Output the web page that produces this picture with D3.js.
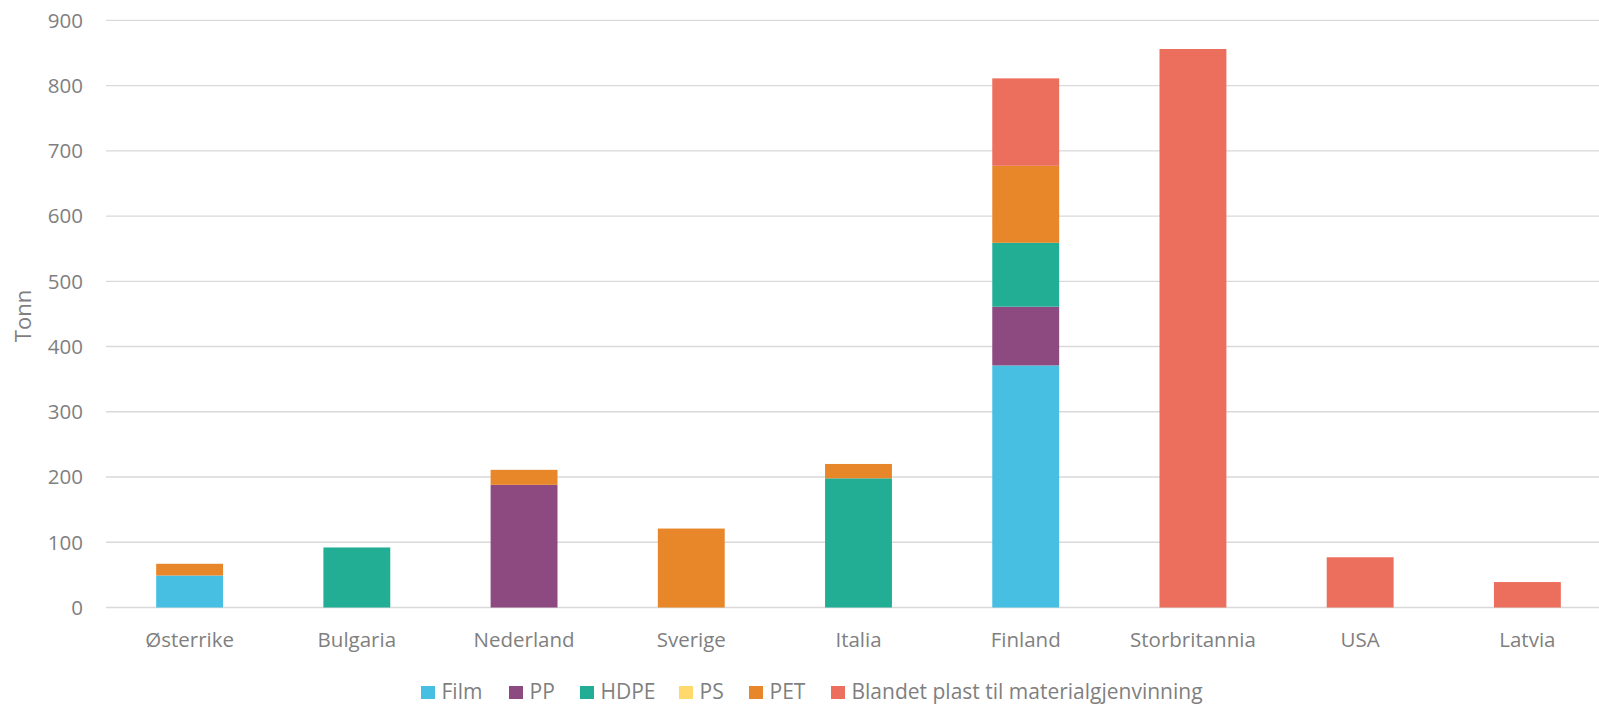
<!DOCTYPE html>
<html>
<head>
<meta charset="utf-8">
<script src="https://d3js.org/d3.v7.min.js"></script>
<style>
  body { margin: 0; background: #fff; }
  text { font-family: "Open Sans", sans-serif; fill: #7f7f7f; }
</style>
</head>
<body>
<div id="chart"></div>
<script>
var countries = ["Østerrike", "Bulgaria", "Nederland", "Sverige", "Italia", "Finland", "Storbritannia", "USA", "Latvia"];
var seriesNames = ["Film", "PP", "HDPE", "PS", "PET", "Blandet plast til materialgjenvinning"];
var film    = [49, 0, 0, 0, 0, 371, 0, 0, 0];
var pp      = [0, 0, 188, 0, 0, 90, 0, 0, 0];
var hdpe    = [0, 92, 0, 0, 198, 98, 0, 0, 0];
var ps      = [0, 0, 0, 0, 0, 0, 0, 0, 0];
var pet     = [18, 0, 23, 121, 22, 118, 0, 0, 0];
var blandet = [0, 0, 0, 0, 0, 134, 856, 77, 39];
var yTicks = [0, 100, 200, 300, 400, 500, 600, 700, 800, 900];
var colors = ["#47bfe3", "#8c4a80", "#22ad95", "#ffd96b", "#e8862a", "#ec6e5c"];

var width = 1599, height = 705;
var svg = d3.select("#chart").append("svg")
  .attr("width", width).attr("height", height);

var rows = countries.map(function(c, i) {
  return { country: c, Film: film[i], PP: pp[i], HDPE: hdpe[i], PS: ps[i], PET: pet[i],
    "Blandet plast til materialgjenvinning": blandet[i] };
});

var x = d3.scaleBand().domain(countries).range([106, 1611]).padding(0);
var y = d3.scaleLinear().domain([0, 900]).range([607.5, 20.3]);
var color = d3.scaleOrdinal().domain(seriesNames).range(colors);

// gridlines
svg.append("g").selectAll("line").data(yTicks).enter().append("line")
  .attr("x1", 106).attr("x2", width)
  .attr("y1", function(d) { return y(d); }).attr("y2", function(d) { return y(d); })
  .attr("stroke", "#d9d9d9").attr("stroke-width", 1.3);

// y labels
svg.append("g").selectAll("text").data(yTicks).enter().append("text")
  .attr("x", 83).attr("y", function(d) { return y(d); })
  .attr("dy", "0.36em").attr("text-anchor", "end")
  .style("font-size", "20.5px")
  .text(function(d) { return d; });

svg.append("text")
  .attr("transform", "translate(31,316) rotate(-90)")
  .attr("text-anchor", "middle")
  .style("font-size", "22px")
  .text("Tonn");

var stack = d3.stack().keys(seriesNames)(rows);
var bw = x.bandwidth() * 0.4;

svg.append("g").selectAll("g").data(stack).enter().append("g")
  .attr("fill", function(d) { return color(d.key); })
  .selectAll("rect").data(function(d) { return d; }).enter()
  .filter(function(d) { return d[1] - d[0] > 0; })
  .append("rect")
  .attr("x", function(d) { return x(d.data.country) + (x.bandwidth() - bw) / 2; })
  .attr("width", bw)
  .attr("y", function(d) { return y(d[1]); })
  .attr("height", function(d) { return y(d[0]) - y(d[1]); });

// category labels
svg.append("g").selectAll("text").data(countries).enter().append("text")
  .attr("x", function(d) { return x(d) + x.bandwidth() / 2; })
  .attr("y", 647)
  .attr("text-anchor", "middle")
  .style("font-size", "20.5px")
  .text(function(d) { return d; });

// legend
var legendX = [421, 509, 580, 679, 749, 831];
var leg = svg.append("g").selectAll("g").data(seriesNames).enter().append("g")
  .attr("transform", function(d, i) { return "translate(" + legendX[i] + ",0)"; });
leg.append("rect").attr("x", 0).attr("y", 686).attr("width", 14).attr("height", 13)
  .attr("fill", function(d) { return color(d); });
leg.append("text")
  .attr("x", 20.5).attr("y", 699)
  .style("font-size", "21px")
  .text(function(d) { return d; });
</script>
</body>
</html>
